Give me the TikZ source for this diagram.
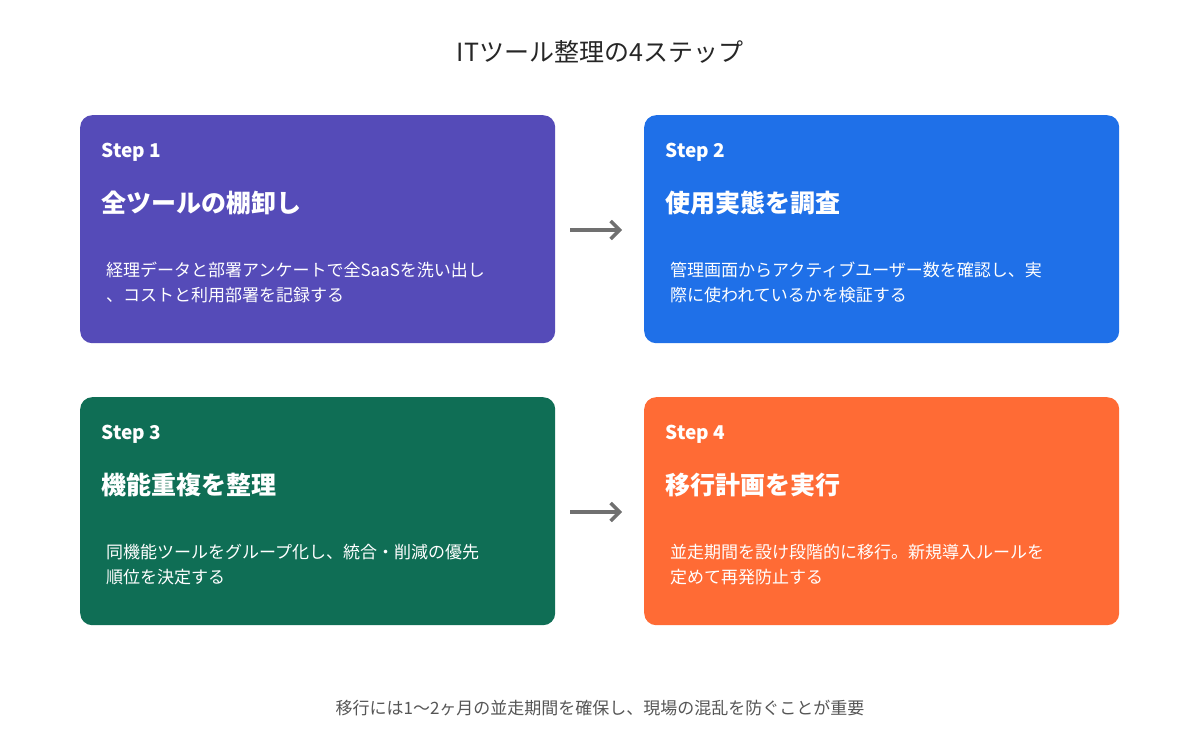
\documentclass[tikz,border=0pt]{standalone}
\usepackage{fontspec}
\setmainfont{Noto Sans CJK JP}
\usetikzlibrary{positioning,arrows.meta}
\definecolor{stepA}{HTML}{554BB8}
\definecolor{stepB}{HTML}{1F70E8}
\definecolor{stepC}{HTML}{0F6E55}
\definecolor{stepD}{HTML}{FF6B35}
\definecolor{arrowgray}{HTML}{707070}
\definecolor{textgray}{HTML}{555555}
\tikzset{
    card/.style={rectangle,rounded corners=12pt,anchor=north west,
        minimum width=475pt,minimum height=228pt,inner sep=0pt,fill=#1},
    steplabel/.style={anchor=west,text=white,font=\fontsize{19pt}{22pt}\selectfont\bfseries},
    heading/.style={anchor=west,text=white,font=\fontsize{25pt}{30pt}\selectfont\bfseries},
    body/.style={anchor=north west,text=white,align=left,inner sep=0pt,
        font=\fontsize{17pt}{25pt}\selectfont},
    flow/.style={arrowgray,line width=3.5pt,-{Straight Barb[length=9pt,width=18pt]},
        shorten <=15pt,shorten >=12pt}
}
\begin{document}
\begin{tikzpicture}[x=1pt,y=-1pt]
    \useasboundingbox (0,0) rectangle (1200,741);
    \node[font=\fontsize{25pt}{30pt}\selectfont,text=black!85] (title) at (600,52) {ITツール整理の4ステップ};

    % Step 1
    \node[card=stepA] (s1) at (80,115) {};
    \node[steplabel] (s1n) at (98,152) {Step 1};
    \node[heading] (s1h) at (98,203) {全ツールの棚卸し};
    \node[body] (s1b) at (106,262) {経理データと部署アンケートで全SaaSを洗い出し\\、コストと利用部署を記録する};

    % Step 2
    \node[card=stepB] (s2) at (644,115) {};
    \node[steplabel] (s2n) at (662,152) {Step 2};
    \node[heading] (s2h) at (662,203) {使用実態を調査};
    \node[body] (s2b) at (670,262) {管理画面からアクティブユーザー数を確認し、実\\際に使われているかを検証する};

    % Step 3
    \node[card=stepC] (s3) at (80,397) {};
    \node[steplabel] (s3n) at (98,434) {Step 3};
    \node[heading] (s3h) at (98,485) {機能重複を整理};
    \node[body] (s3b) at (106,544) {同機能ツールをグループ化し、統合・削減の優先\\順位を決定する};

    % Step 4
    \node[card=stepD] (s4) at (644,397) {};
    \node[steplabel] (s4n) at (662,434) {Step 4};
    \node[heading] (s4h) at (662,485) {移行計画を実行};
    \node[body] (s4b) at (670,544) {並走期間を設け段階的に移行。新規導入ルールを\\定めて再発防止する};

    \coordinate (a1) at (634,230);
    \coordinate (a2) at (634,512);
    \draw[flow] (s1.east |- a1) -- (a1);
    \draw[flow] (s3.east |- a2) -- (a2);

    \node[font=\fontsize{17pt}{20pt}\selectfont,text=textgray] (note) at (600,708) {移行には1〜2ヶ月の並走期間を確保し、現場の混乱を防ぐことが重要};
\end{tikzpicture}
\end{document}
